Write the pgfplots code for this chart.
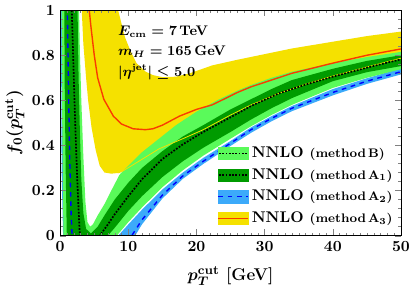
\documentclass[border=0pt]{standalone}
\usepackage{pgfplots}
\pgfplotsset{compat=1.18}
\definecolor{lgreen}{RGB}{90,250,90}
\definecolor{dgreen}{RGB}{0,155,0}
\definecolor{lblue}{RGB}{60,170,250}
\definecolor{yell}{RGB}{245,225,0}
\definecolor{redl}{RGB}{250,60,0}
\begin{document}
\boldmath\bfseries
\begin{tikzpicture}
\begin{axis}[
  scale only axis, width=220pt, height=145.6pt,
  xmin=0, xmax=50, ymin=0, ymax=1,
  xtick={0,10,...,50}, ytick={0,0.2,...,1},
  minor x tick num=9, minor y tick num=4,
  tick align=inside, major tick length=4pt, minor tick length=2pt,
  xticklabel style={/pgf/number format/fixed},
  yticklabel style={/pgf/number format/fixed,/pgf/number format/precision=1},
  axis on top,
  xlabel={$p_T^{\rm cut}$ [GeV]},
  ylabel={$f_0(p_T^{\rm cut})$},
  label style={font=\fontsize{11}{13}\selectfont},
  xlabel style={yshift=-3pt},
  ylabel style={yshift=-2pt},
  legend style={at={(0.99,0.026)}, anchor=south east, draw=none, fill=none,
    row sep=1.5pt, inner sep=1pt, cells={anchor=west}},
  legend cell align=left,
]
% yellow band (method A3)
\addplot[fill=yell, draw=none, forget plot] coordinates {
(3.0,1.1) (8.2,1.1) (8.5,1.0) (9.5,0.88) (10.3,0.82) (11.2,0.765) (12.5,0.728) (13.6,0.712) (15,0.703) (17,0.705) (19,0.72) (20.9,0.74) (22.3,0.755) (26,0.78) (30,0.805) (34,0.83) (40,0.86) (45,0.885) (50,0.905)
(50,0.787) (45,0.748) (40,0.708) (36,0.672) (32,0.63) (28,0.58) (25,0.535) (21,0.47) (18,0.43) (14.5,0.385) (11,0.32) (9.1,0.285) (8.5,0.278) (7.5,0.275) (6.5,0.28) (5.8,0.31) (5.2,0.38) (4.6,0.48) (4.1,0.6) (3.8,0.7) (3.4,0.85) (3.0,1.1)} --cycle;
% light blue band (method A2)
\addplot[fill=lblue, draw=none, forget plot] coordinates {
(1.6,1.1) (1.9,0.5) (2.3,0.1) (2.6,-0.05) (7,-0.05) (8.5,0) (10,0.05) (12,0.115) (15,0.205) (18,0.28) (21,0.345) (25,0.42) (28,0.48) (31,0.53) (34,0.575) (40,0.65) (45,0.698) (50,0.742)
(50,0.715) (45,0.673) (40,0.622) (34,0.552) (31,0.507) (28,0.456) (25,0.398) (21,0.318) (18,0.252) (15,0.165) (12,0.05) (11,0) (10,-0.1) (0.5,-0.1) (0.2,0.3) (0.1,1.1)} --cycle;
% light green band (method B)
\addplot[fill=lgreen, draw=none, forget plot] coordinates {
(2.7,1.1) (2.9,0.8) (3.1,0.6) (3.4,0.35) (3.7,0.15) (4.0,0.06) (4.4,0.04) (4.8,0.05) (5.5,0.09) (6.5,0.14) (7.5,0.2) (8.7,0.27) (10,0.31) (12,0.37) (14.5,0.43) (17,0.49) (20,0.55) (23,0.6) (26,0.643) (28,0.668) (31,0.70) (34,0.727) (40,0.765) (45,0.792) (50,0.815)
(50,0.738) (45,0.7) (40,0.655) (34,0.58) (31,0.535) (28,0.485) (25,0.43) (21,0.355) (18,0.29) (15,0.215) (12,0.125) (10,0.06) (8.3,0) (7.5,-0.05) (0.5,-0.05) (0.3,0.5) (0.2,1.1)} --cycle;
% dark green band (method A1)
\addplot[fill=dgreen, draw=none, forget plot] coordinates {
(2.5,1.1) (2.7,0.7) (2.9,0.45) (3.1,0.25) (3.4,0.1) (3.8,0.03) (4.5,0.01) (5.5,0.04) (6.5,0.09) (8,0.16) (10,0.235) (12,0.3) (15,0.375) (18,0.44) (21,0.49) (25,0.56) (28,0.605) (31,0.65) (34,0.69) (40,0.74) (45,0.775) (50,0.80)
(50,0.752) (45,0.725) (40,0.685) (34,0.61) (31,0.565) (28,0.515) (25,0.46) (21,0.39) (18,0.33) (15,0.26) (12,0.175) (10,0.11) (8,0.035) (7,0) (6,-0.05) (1.0,-0.05) (0.8,0.3) (0.65,0.7) (0.6,1.1)} --cycle;
% yellow band lower edge
\addplot[yell, line width=0.5pt, forget plot] coordinates {
(8.5,0.278) (9.1,0.285) (11,0.32) (14.5,0.385) (18,0.43) (21,0.47) (25,0.535) (28,0.58) (32,0.63) (36,0.672) (40,0.708) (45,0.748) (50,0.787)};
% red line (method A3)
\addplot[redl, line width=0.9pt, forget plot] coordinates {
(4.1,1.05) (4.5,0.93) (5,0.8) (5.5,0.7) (6.4,0.605) (7.8,0.53) (9,0.495) (10.7,0.474) (12.5,0.47) (13.6,0.474) (15,0.49) (17.5,0.53) (20,0.56) (22.3,0.58) (24,0.605) (26,0.635) (28,0.66) (31,0.69) (34,0.72) (40,0.765) (45,0.8) (50,0.828)};
% dotted (method B)
\addplot[black, densely dotted, line width=1.1pt, forget plot] coordinates {
(1.6,1.1) (1.9,0.8) (2.2,0.5) (2.5,0.25) (2.8,0.05) (3.0,-0.05) (4.4,-0.12) (5.8,0) (7,0.05) (8,0.095) (10,0.175) (12,0.25) (15,0.34) (18,0.405) (21,0.46) (25,0.525) (28,0.575) (32,0.63) (36,0.67) (40,0.705) (45,0.745) (50,0.782)};
% blue dashed (method A2)
\addplot[blue, dashed, line width=0.9pt, forget plot] coordinates {
(1.0,1.1) (1.15,0.8) (1.25,0.6) (1.4,0.35) (1.6,0.1) (1.75,0) (2,-0.1) (9,-0.1) (10.5,0) (12,0.07) (15,0.18) (18,0.265) (21,0.33) (25,0.41) (28,0.47) (31,0.52) (34,0.565) (40,0.635) (45,0.685) (50,0.727)};
\addlegendimage{legend image code/.code={\fill[lgreen] (0pt,-4pt) rectangle (19pt,4pt); \draw[black,densely dotted,line width=1.1pt] (0.5pt,0pt) -- (19pt,0pt);}}
\addlegendentry{NNLO {\footnotesize(method\,B)}}
\addlegendimage{legend image code/.code={\fill[dgreen] (0pt,-4pt) rectangle (19pt,4pt); \draw[black,densely dotted,line width=1.1pt] (0.5pt,0pt) -- (19pt,0pt);}}
\addlegendentry{NNLO {\footnotesize(method\,A$_1$)}}
\addlegendimage{legend image code/.code={\fill[lblue] (0pt,-4pt) rectangle (19pt,4pt); \draw[blue,dashed,line width=0.9pt] (0pt,0pt) -- (19pt,0pt);}}
\addlegendentry{NNLO {\footnotesize(method\,A$_2$)}}
\addlegendimage{legend image code/.code={\fill[yell] (0pt,-4pt) rectangle (19pt,4pt); \draw[redl,line width=0.9pt] (0pt,0pt) -- (19pt,0pt);}}
\addlegendentry{NNLO {\footnotesize(method\,A$_3$)}}
\node[anchor=west, font=\small] at (axis cs:7.7,0.905) {$E_{\rm cm} = 7$\,TeV};
\node[anchor=west, font=\small] at (axis cs:7.7,0.815) {$m_H = 165$\,GeV};
\node[anchor=west, font=\small] at (axis cs:7.7,0.725) {$|\eta^{\rm jet}| \le 5.0$};
\end{axis}
\end{tikzpicture}
\end{document}
